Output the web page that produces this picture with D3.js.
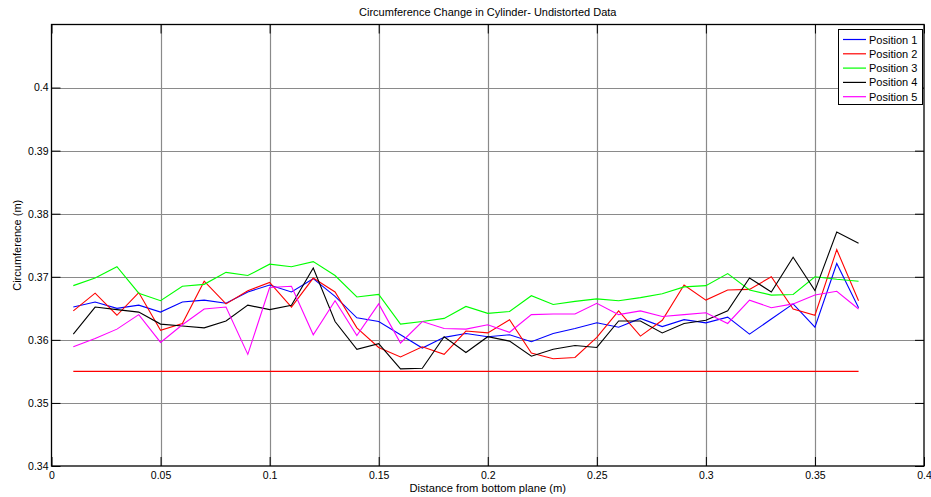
<!DOCTYPE html>
<html>
<head>
<meta charset="utf-8">
<script src="https://cdn.jsdelivr.net/npm/d3@7"></script>
<style>
  html, body { margin: 0; padding: 0; background: #fff; }
  svg { display: block; font-family: "Liberation Sans", Arial, sans-serif; }
</style>
</head>
<body>
<svg id="chart" width="931" height="497"></svg>
<script>
// Distance from bottom plane (m)
const distance = [0.01, 0.02, 0.03, 0.04, 0.05, 0.06, 0.07, 0.08, 0.09, 0.10,
  0.11, 0.12, 0.13, 0.14, 0.15, 0.16, 0.17, 0.18, 0.19, 0.20,
  0.21, 0.22, 0.23, 0.24, 0.25, 0.26, 0.27, 0.28, 0.29, 0.30,
  0.31, 0.32, 0.33, 0.34, 0.35, 0.36, 0.37];

// Measured circumference (m) for each position
const position1 = [0.3652, 0.3660, 0.3650, 0.3655, 0.3644, 0.3660, 0.3663, 0.3658, 0.3676, 0.3687,
  0.3676, 0.3697, 0.3669, 0.3635, 0.3629, 0.3608, 0.3587, 0.3604, 0.3610, 0.3605,
  0.3608, 0.3597, 0.3610, 0.3618, 0.3627, 0.3620, 0.3634, 0.3621, 0.3632, 0.3627,
  0.3636, 0.3609, 0.3633, 0.3657, 0.3620, 0.3721, 0.3651];
const position2 = [0.3646, 0.3674, 0.3639, 0.3675, 0.3615, 0.3626, 0.3693, 0.3657, 0.3678, 0.3691,
  0.3652, 0.3698, 0.3676, 0.3619, 0.3588, 0.3573, 0.3589, 0.3577, 0.3614, 0.3611,
  0.3632, 0.3579, 0.3570, 0.3572, 0.3604, 0.3646, 0.3606, 0.3631, 0.3687, 0.3663,
  0.3679, 0.3680, 0.3700, 0.3649, 0.3639, 0.3743, 0.3662];
const position3 = [0.3686, 0.3698, 0.3716, 0.3674, 0.3662, 0.3685, 0.3688, 0.3707, 0.3702, 0.3720,
  0.3716, 0.3724, 0.3702, 0.3668, 0.3672, 0.3625, 0.3629, 0.3634, 0.3653, 0.3642,
  0.3645, 0.3670, 0.3656, 0.3661, 0.3665, 0.3662, 0.3667, 0.3673, 0.3684, 0.3686,
  0.3705, 0.3679, 0.3671, 0.3672, 0.3700, 0.3696, 0.3693];
const position4 = [0.3609, 0.3652, 0.3648, 0.3644, 0.3625, 0.3622, 0.3619, 0.3630, 0.3655, 0.3648,
  0.3655, 0.3714, 0.3629, 0.3585, 0.3594, 0.3554, 0.3555, 0.3605, 0.3580, 0.3605,
  0.3598, 0.3574, 0.3585, 0.3591, 0.3588, 0.3630, 0.3630, 0.3611, 0.3626, 0.3631,
  0.3646, 0.3698, 0.3676, 0.3731, 0.3678, 0.3771, 0.3753];
const position5 = [0.3589, 0.3602, 0.3617, 0.3640, 0.3596, 0.3624, 0.3649, 0.3652, 0.3577, 0.3683,
  0.3685, 0.3608, 0.3662, 0.3607, 0.3657, 0.3595, 0.3629, 0.3618, 0.3617, 0.3624,
  0.3612, 0.3640, 0.3641, 0.3641, 0.3658, 0.3640, 0.3646, 0.3637, 0.3640, 0.3643,
  0.3626, 0.3663, 0.3651, 0.3657, 0.3671, 0.3677, 0.3649];

// Nominal circumference reference
const nominal = 0.355;

const seriesNames = ["Position 1", "Position 2", "Position 3", "Position 4", "Position 5"];
const seriesColors = ["#0000ff", "#ff0000", "#00ff00", "#000000", "#ff00ff"];
const seriesValues = [position1, position2, position3, position4, position5];

const xTicks = [0, 0.05, 0.1, 0.15, 0.2, 0.25, 0.3, 0.35, 0.4];
const yTicks = [0.34, 0.35, 0.36, 0.37, 0.38, 0.39, 0.4];

const svg = d3.select("#chart");
const pLeft = 51.5, pRight = 924, pTop = 24.5, pBottom = 466;

const x = d3.scaleLinear().domain([0, 0.4]).range([pLeft, pRight]);
const y = d3.scaleLinear().domain([0.34, 0.41]).range([pBottom, pTop]);
const tickLen = 9;
const crisp = v => Math.round(v) + 0.5;

// Grid
const grid = svg.append("g");
grid.selectAll("line.gx").data(xTicks.slice(1, -1)).enter().append("line")
  .attr("x1", d => crisp(x(d))).attr("x2", d => crisp(x(d)))
  .attr("y1", pTop).attr("y2", pBottom)
  .attr("stroke", "#8a8a8a").attr("stroke-width", 1.2);
grid.selectAll("line.gy").data(yTicks.slice(1)).enter().append("line")
  .attr("y1", d => crisp(y(d))).attr("y2", d => crisp(y(d)))
  .attr("x1", pLeft).attr("x2", pRight)
  .attr("stroke", "#8a8a8a").attr("stroke-width", 1.2);

// Axes with inward ticks
const fmt = d => d3.format("~g")(d);
const xAxisB = d3.axisBottom(x).tickValues(xTicks).tickFormat(fmt).tickSize(-tickLen).tickPadding(6);
const xAxisT = d3.axisTop(x).tickValues(xTicks).tickFormat("").tickSize(-tickLen);
const yAxisL = d3.axisLeft(y).tickValues(yTicks).tickFormat(fmt).tickSize(-tickLen).tickPadding(3);
const yAxisR = d3.axisRight(y).tickValues(yTicks).tickFormat("").tickSize(-tickLen);

function styleAxis(g) {
  g.select(".domain").remove();
  g.selectAll(".tick line").attr("stroke", "#000");
  g.selectAll(".tick text").attr("fill", "#000").attr("font-size", 10.5)
    .attr("font-family", "'Liberation Sans', Arial, sans-serif");
}
svg.append("g").attr("transform", `translate(0,${pBottom})`).call(xAxisB).call(styleAxis);
svg.append("g").attr("transform", `translate(0,${pTop})`).call(xAxisT).call(styleAxis);
svg.append("g").attr("transform", `translate(${pLeft},0)`).call(yAxisL).call(styleAxis);
svg.append("g").attr("transform", `translate(${pRight},0)`).call(yAxisR).call(styleAxis);

// Plot box
svg.append("rect").attr("x", pLeft).attr("y", pTop)
  .attr("width", pRight - pLeft).attr("height", pBottom - pTop)
  .attr("fill", "none").attr("stroke", "#000").attr("stroke-width", 1.3);

// Nominal reference line
svg.append("line")
  .attr("x1", x(distance[0])).attr("x2", x(distance[distance.length - 1]))
  .attr("y1", y(nominal)).attr("y2", y(nominal))
  .attr("stroke", "#ff0000").attr("stroke-width", 1.2);

// Series lines
const line = d3.line().x((d, i) => x(distance[i])).y(d => y(d));
seriesValues.forEach((vals, k) => {
  svg.append("path").datum(vals)
    .attr("d", line)
    .attr("fill", "none")
    .attr("stroke", seriesColors[k])
    .attr("stroke-width", 1.1)
    .attr("stroke-linejoin", "miter");
});

// Labels
svg.append("text").attr("x", (pLeft + pRight) / 2).attr("y", 16)
  .attr("text-anchor", "middle").attr("font-size", 11).text("Circumference Change in Cylinder- Undistorted Data");
svg.append("text").attr("x", (pLeft + pRight) / 2).attr("y", 492)
  .attr("text-anchor", "middle").attr("font-size", 11.2).text("Distance from bottom plane (m)");
svg.append("text").attr("transform", `translate(21,${(pTop + pBottom) / 2}) rotate(-90)`)
  .attr("text-anchor", "middle").attr("font-size", 11).text("Circumference (m)");

// Legend
const lg = svg.append("g");
lg.append("rect").attr("x", 838.5).attr("y", 29.5).attr("width", 84).attr("height", 75)
  .attr("fill", "#fff").attr("stroke", "#000").attr("stroke-width", 1);
seriesNames.forEach((name, k) => {
  const yy = 39.5 + k * 14.3;
  lg.append("line").attr("x1", 843).attr("x2", 866).attr("y1", yy).attr("y2", yy)
    .attr("stroke", seriesColors[k]).attr("stroke-width", 1.2);
  lg.append("text").attr("x", 869).attr("y", yy + 4).attr("font-size", 11).text(name);
});
</script>
</body>
</html>
